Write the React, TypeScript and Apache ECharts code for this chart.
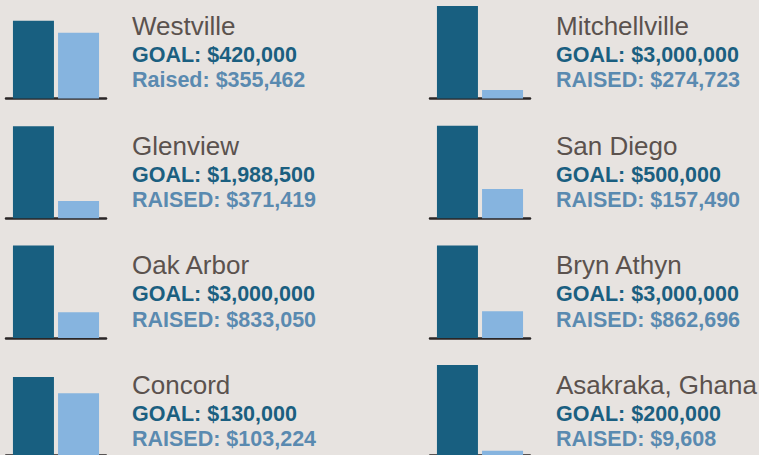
import React, { useEffect, useRef } from "react";
import * as echarts from "echarts";

const cities = ["Westville", "Mitchellville", "Glenview", "San Diego", "Oak Arbor", "Bryn Athyn", "Concord", "Asakraka, Ghana"];
const goals = [420000, 3000000, 1988500, 500000, 3000000, 3000000, 130000, 200000];
const raised = [355462, 274723, 371419, 157490, 833050, 862696, 103224, 9608];
const raisedPrefix = ["Raised", "RAISED", "RAISED", "RAISED", "RAISED", "RAISED", "RAISED", "RAISED"];
const axisMax = [500000, 3000000, 2000000, 500000, 3000000, 3000000, 150000, 200000];

const fmt = (v: number) => "$" + v.toLocaleString("en-US");

export default function App() {
  const ref = useRef<HTMLDivElement>(null);
  useEffect(() => {
    document.body.style.margin = "0";
    const chart = echarts.init(ref.current!, null, { renderer: "svg" });
    const grids: any[] = [];
    const xAxes: any[] = [];
    const yAxes: any[] = [];
    const series: any[] = [];
    const graphics: any[] = [];
    const pitch = 119.7;
    const font = "'Liberation Sans', Arial, sans-serif";
    cities.forEach((city, i) => {
      const col = i % 2;
      const row = Math.floor(i / 2);
      grids.push({ left: col === 0 ? 6 : 430, width: 100, top: 6 + row * pitch, height: 92.5 });
      xAxes.push({
        type: "category",
        gridIndex: i,
        data: [city],
        axisLine: { show: true, lineStyle: { color: "#2a2626", width: 2.5 } },
        axisTick: { show: false },
        axisLabel: { show: false },
      });
      yAxes.push({ type: "value", gridIndex: i, min: 0, max: axisMax[i], show: false, splitLine: { show: false } });
      series.push({
        type: "bar",
        xAxisIndex: i,
        yAxisIndex: i,
        data: [goals[i]],
        barWidth: 41,
        barGap: "10%",
        itemStyle: { color: "#185f80" },
      });
      series.push({
        type: "bar",
        xAxisIndex: i,
        yAxisIndex: i,
        data: [raised[i]],
        barWidth: 41,
        barGap: "10%",
        itemStyle: { color: "#86b4df" },
      });
      const tx = col === 0 ? 132 : 556;
      const oy = row * pitch;
      graphics.push({
        type: "text",
        x: tx,
        y: oy + 26,
        style: { text: city, fill: "#5b524e", font: `400 26px ${font}`, lineHeight: 24, verticalAlign: "middle" },
      });
      graphics.push({
        type: "text",
        x: tx,
        y: oy + 54.8,
        style: { text: "GOAL: " + fmt(goals[i]), fill: "#1b5f80", font: `700 21.5px ${font}`, lineHeight: 21, verticalAlign: "middle" },
      });
      graphics.push({
        type: "text",
        x: tx,
        y: oy + 80.2,
        style: { text: raisedPrefix[i] + ": " + fmt(raised[i]), fill: "#5a8ab0", font: `700 21.5px ${font}`, lineHeight: 21, verticalAlign: "middle" },
      });
    });
    chart.setOption({
      animation: false,
      backgroundColor: "#e7e3e0",
      grid: grids,
      xAxis: xAxes,
      yAxis: yAxes,
      series,
      graphic: graphics,
    });
    return () => chart.dispose();
  }, []);
  return <div ref={ref} style={{ width: 759, height: 455 }} />;
}
